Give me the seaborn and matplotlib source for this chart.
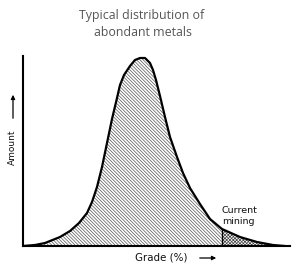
import numpy as np
import pandas as pd
import matplotlib
matplotlib.use("Agg")
import matplotlib.pyplot as plt
import seaborn as sns

# Curve (grade and amount in arbitrary units)
grade = [0, 12, 22, 37, 47, 56, 64, 69, 74, 79, 84, 89, 94, 97, 101, 107, 112,
         117, 122, 127, 130, 133, 137, 142, 147, 154, 160, 167, 177, 187, 199,
         217, 234, 250, 262]
amount = [0, 1, 3, 9, 15, 23, 33, 44, 59, 79, 103, 127, 148, 161, 171, 180,
          186, 188, 188, 183, 176, 166, 150, 129, 109, 89, 73, 58, 42, 27, 17,
          9, 4, 1, 0]
mining_cutoff = 199

title_lines = ["Typical distribution of", "abondant metals"]
x_label = "Grade (%)"
y_label = "Amount"
mining_label = "Current\nmining"

df = pd.DataFrame({"grade": grade, "amount": amount})

sns.set_style("white")
plt.rcParams["hatch.linewidth"] = 0.5
plt.rcParams["hatch.color"] = "#444444"

W, H = 297, 267
fig = plt.figure(figsize=(W / 100, H / 100), dpi=100)
left, right, bottom, top = 23, 290, 246, 56
ax = fig.add_axes([left / W, (H - bottom) / H, (right - left) / W, (bottom - top) / H])

g = np.array(grade)
a = np.array(amount)
main = g <= mining_cutoff
mine = g >= mining_cutoff
ax.fill_between(g[main], 0, a[main], facecolor="white", edgecolor="#555555",
                hatch="\\" * 10, linewidth=0)
ax.fill_between(g[mine], 0, a[mine], facecolor="white", edgecolor="#444444",
                hatch="x" * 10, linewidth=0)
ax.plot([mining_cutoff, mining_cutoff], [0, a[g == mining_cutoff][0]],
        color="black", linewidth=1.0)

sns.lineplot(data=df, x="grade", y="amount", ax=ax, color="black", linewidth=1.6,
             sort=False)

ax.set_xlim(0, right - left)
ax.set_ylim(0, bottom - top)
ax.set_xticks([])
ax.set_yticks([])
ax.set_xlabel("")
ax.set_ylabel("")
for s in ["top", "right"]:
    ax.spines[s].set_visible(False)
for s in ["left", "bottom"]:
    ax.spines[s].set_color("black")
    ax.spines[s].set_linewidth(1.5)

# mining label
ax.text(mining_cutoff, 30, mining_label, fontsize=6.8, ha="left", va="center",
        linespacing=1.25, family="DejaVu Sans", color="#111111")

def fx(px):
    return px / W

def fy(py):
    return (H - py) / H

fig.text(fx(142), fy(15), title_lines[0], ha="center", va="center",
         fontsize=8.9, color="#555555", family="Open Sans")
fig.text(fx(143), fy(32), title_lines[1], ha="center", va="center",
         fontsize=8.9, color="#555555", family="Open Sans")

# axis labels with arrows
fig.text(fx(161), fy(257), x_label, ha="center", va="center", fontsize=7.4,
         color="#111111", family="DejaVu Sans")
fig.add_artist(matplotlib.patches.FancyArrowPatch(
    (fx(197), fy(258)), (fx(219), fy(258)), transform=fig.transFigure,
    arrowstyle="-|>", mutation_scale=6, color="black", linewidth=0.9))

fig.text(fx(12), fy(147), y_label, ha="center", va="center", rotation=90,
         fontsize=6.5, color="#111111", family="DejaVu Sans")
fig.add_artist(matplotlib.patches.FancyArrowPatch(
    (fx(13), fy(121)), (fx(13), fy(92)), transform=fig.transFigure,
    arrowstyle="-|>", mutation_scale=6, color="black", linewidth=0.9))

fig.savefig("out.png", dpi=100, facecolor="white")
